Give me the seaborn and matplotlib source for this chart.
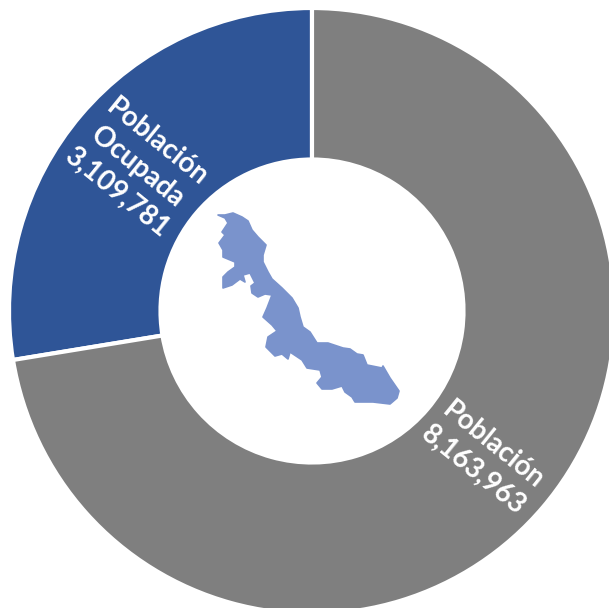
import matplotlib
matplotlib.use("Agg")
import matplotlib.pyplot as plt
import seaborn as sns

categories = ["Población Ocupada", "Población"]
values = [3109781, 8163963]
labels = ["Población\nOcupada\n3,109,781", "Población\n8,163,963"]
colors = ["#2F5597", "#7F7F7F"]

# Decorative state silhouette (Veracruz), traced in image pixels
map_x = [218, 225, 233, 242, 248, 252, 258, 266, 263, 263, 268, 272, 282, 292, 298, 300, 303, 310,
         317, 328, 343, 350, 357, 363, 367, 382, 383, 390, 399, 397, 390, 373, 355, 352, 345, 342,
         332, 322, 317, 322, 320, 307, 302, 290, 288, 282, 275, 266, 268, 277, 272, 263, 267, 272,
         265, 258, 252, 251, 255, 250, 243, 245, 240, 232, 223, 223, 228, 235, 235, 223, 223, 219,
         225, 222, 228, 225]
map_y = [215, 215, 213, 217, 221, 230, 237, 245, 255, 262, 272, 279, 288, 298, 308, 317, 327, 332,
         343, 343, 348, 349, 354, 355, 365, 368, 366, 378, 391, 398, 404, 402, 402, 397, 392, 386,
         389, 389, 383, 377, 370, 368, 360, 352, 359, 354, 356, 347, 337, 331, 325, 317, 308, 295,
         294, 297, 293, 286, 283, 273, 275, 282, 279, 285, 288, 277, 272, 267, 262, 257, 250, 243,
         235, 232, 223, 218]

W, H = 609, 608
sns.set_theme(style="white")
plt.rcParams["font.family"] = ["Lato", "DejaVu Sans"]

fig = plt.figure(figsize=(W / 100, H / 100), dpi=100)
ax = fig.add_axes([0, 0, 1, 1])

ax.pie(
    values,
    colors=colors,
    startangle=90,
    counterclock=True,
    radius=303,
    center=(312, H - 311),
    frame=True,
    wedgeprops=dict(width=151.5, edgecolor="white", linewidth=3),
)
ax.set_xlim(0, W)
ax.set_ylim(0, H)
ax.set_aspect("equal")
ax.set_axis_off()

ax.fill(map_x, [H - y for y in map_y], facecolor="#7A93CC", edgecolor="#7A93CC",
        linewidth=1.2, joinstyle="round", zorder=3)

text_style = dict(color="white", fontsize=20, fontweight="bold", rotation=-39,
                  rotation_mode="anchor", ha="center", va="center", linespacing=1.28,
                  multialignment="center", zorder=4)
ax.text(137, H - 167, labels[0], **text_style)
ax.text(483, H - 458, labels[1], **text_style)

fig.savefig("out.png", dpi=100)
